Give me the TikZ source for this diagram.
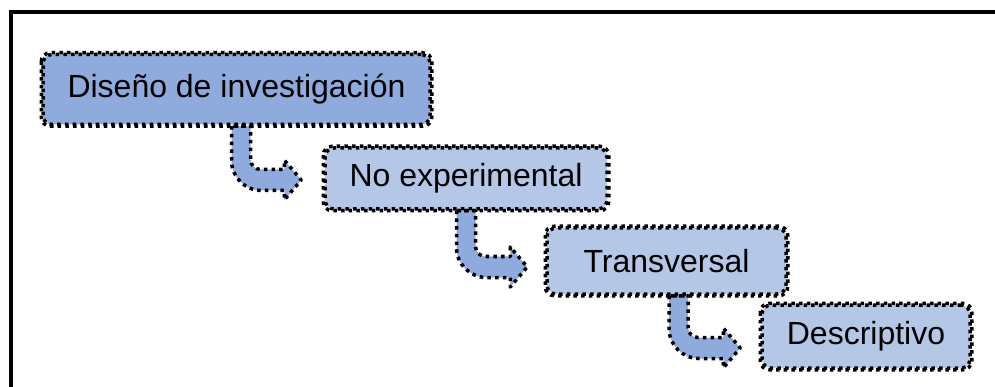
\documentclass[tikz,border=0pt]{standalone}
\usepackage{fontspec}
\setmainfont{Liberation Sans}
\usetikzlibrary{calc}

\definecolor{boxdark}{HTML}{8FAADC}
\definecolor{boxlight}{HTML}{B4C7E7}

% bent arrow geometry
\newcommand\arwW{9.5pt}    % half width of the vertical shaft
\newcommand\arwH{10.5pt}   % half height of the horizontal shaft
\newcommand\arwHead{20pt}  % half height of the head
\newcommand\arwLen{17pt}   % head length
\newcommand\arwRo{30pt}    % outer bend radius
\newcommand\arwRi{10pt}    % inner bend radius

% #1 source node, #2 target node, #3 shaft x shift, #4 row y shift (down), #5 gap before target
\newcommand\bentarrow[5]{%
  \path[bentstyle] let \p1=(#1.south), \p2=(#2.west),
      \n1={\x1+#3pt}, \n2={\y2-#4pt}, \n3={\x2-#5pt} in
    ({\n1-\arwW},\y1)
    -- ({\n1-\arwW},{\n2-\arwH+\arwRo})
    .. controls ({\n1-\arwW},{\n2-\arwH+0.45*\arwRo}) and ({\n1-\arwW+0.45*\arwRo},{\n2-\arwH})
    .. ({\n1-\arwW+\arwRo},{\n2-\arwH})
    -- ({\n3-\arwLen},{\n2-\arwH})
    -- ({\n3-\arwLen},{\n2-\arwHead})
    -- (\n3,\n2)
    -- ({\n3-\arwLen},{\n2+\arwHead})
    -- ({\n3-\arwLen},{\n2+\arwH})
    -- ({\n1+\arwW+\arwRi},{\n2+\arwH})
    .. controls ({\n1+\arwW+0.45*\arwRi},{\n2+\arwH}) and ({\n1+\arwW},{\n2+\arwH+0.45*\arwRi})
    .. ({\n1+\arwW},{\n2+\arwH+\arwRi})
    -- ({\n1+\arwW},\y1) -- cycle;
}

\tikzset{
  dotline/.style={draw=black, line width=3.5pt, dash pattern=on 3.5pt off 4.2pt},
  stage/.style={dotline, rounded corners=9pt, inner sep=0pt,
    font=\fontsize{32}{38}\selectfont, text=black},
  bentstyle/.style={dotline, fill=boxdark, line join=round},
  frame/.style={draw=black, line width=4pt}
}

\begin{document}
\begin{tikzpicture}[x=1pt, y=-1pt]
  \useasboundingbox (0,0) rectangle (995,387);
  \clip (0,0) rectangle (995,387);

  % outer frame (open to the right and bottom)
  \draw[frame] (10.5,420) -- (10.5,12.3) -- (1010,12.3);

  % stages
  \node[stage, fill=boxdark, minimum width=387pt, minimum height=70pt]
    (s1) at (236.5,89.5) {Diseño de investigación};
  \node[stage, fill=boxlight, minimum width=282pt, minimum height=61pt]
    (s2) at (466,178.5) {No experimental};
  \node[stage, fill=boxlight, minimum width=239pt, minimum height=66pt]
    (s3) at (666.5,261) {Transversal};
  \node[stage, fill=boxlight, minimum width=208pt, minimum height=63pt]
    (s4) at (866,336.5) {Descriptivo};

  % bent arrows between stages
  \bentarrow{s1}{s2}{4.5}{1.5}{22}
  \bentarrow{s2}{s3}{0}{6}{18}
  \bentarrow{s3}{s4}{12}{11.5}{20}

  % redraw stage borders over the arrow tails
  \foreach \s in {s1,s2,s3,s4}{
    \draw[dotline, rounded corners=9pt] (\s.north west) rectangle (\s.south east);
  }
\end{tikzpicture}
\end{document}
